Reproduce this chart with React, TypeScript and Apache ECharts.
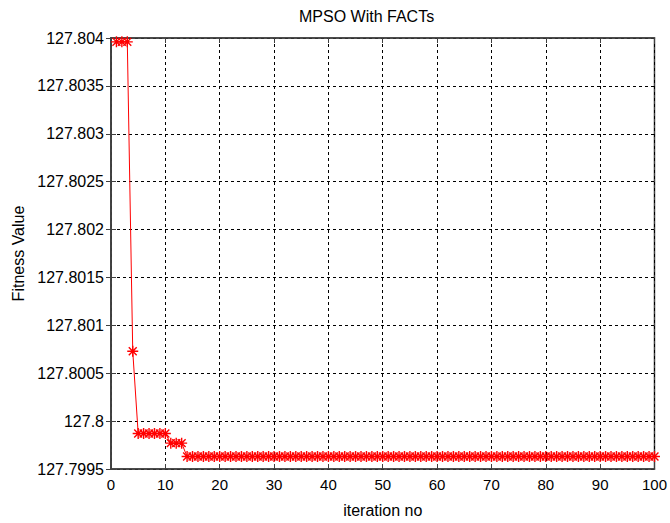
import React, { useEffect, useRef } from "react";
import * as echarts from "echarts";

const titleText = "MPSO With FACTs";
const xName = "iteration no";
const yName = "Fitness Value";

const xTicks = [0, 10, 20, 30, 40, 50, 60, 70, 80, 90, 100];
const yMin = 127.7995;
const yMax = 127.804;
const yStep = 0.0005;

// fitness value per iteration (iteration 1..100)
const fitness = [
  127.80396, 127.80396, 127.80396, 127.80073, 127.79987, 127.79987, 127.79987, 127.79987, 127.79987, 127.79987,
  127.79977, 127.79977, 127.79977, 127.79963, 127.79963, 127.79963, 127.79963, 127.79963, 127.79963, 127.79963,
  127.79963, 127.79963, 127.79963, 127.79963, 127.79963, 127.79963, 127.79963, 127.79963, 127.79963, 127.79963,
  127.79963, 127.79963, 127.79963, 127.79963, 127.79963, 127.79963, 127.79963, 127.79963, 127.79963, 127.79963,
  127.79963, 127.79963, 127.79963, 127.79963, 127.79963, 127.79963, 127.79963, 127.79963, 127.79963, 127.79963,
  127.79963, 127.79963, 127.79963, 127.79963, 127.79963, 127.79963, 127.79963, 127.79963, 127.79963, 127.79963,
  127.79963, 127.79963, 127.79963, 127.79963, 127.79963, 127.79963, 127.79963, 127.79963, 127.79963, 127.79963,
  127.79963, 127.79963, 127.79963, 127.79963, 127.79963, 127.79963, 127.79963, 127.79963, 127.79963, 127.79963,
  127.79963, 127.79963, 127.79963, 127.79963, 127.79963, 127.79963, 127.79963, 127.79963, 127.79963, 127.79963,
  127.79963, 127.79963, 127.79963, 127.79963, 127.79963, 127.79963, 127.79963, 127.79963, 127.79963, 127.79963,
];

const FONT = "'Liberation Sans', Arial, Helvetica, sans-serif";
const ASTERISK =
  "path://M0,-5L0,5M-5,0L5,0M-3.6,-3.6L3.6,3.6M-3.6,3.6L3.6,-3.6";

export default function App() {
  const ref = useRef<HTMLDivElement>(null);
  useEffect(() => {
    if (!ref.current) return;
    const chart = echarts.init(ref.current, null, { renderer: "svg" });
    const fmtY = (v: number) => String(parseFloat(v.toFixed(4)));
    chart.setOption({
      animation: false,
      backgroundColor: "#ffffff",
      title: {
        text: titleText,
        left: 294,
        top: 3,
        textStyle: { fontFamily: FONT, fontSize: 16, fontWeight: "normal", color: "#000" },
      },
      grid: {
        left: 111,
        right: 14,
        top: 38,
        bottom: 46,
        show: true,
        borderColor: "#404040",
        borderWidth: 1.5,
        backgroundColor: "#fff",
      },
      xAxis: [
        {
          type: "value",
          min: xTicks[0],
          max: xTicks[xTicks.length - 1],
          interval: 10,
          name: xName,
          nameLocation: "middle",
          nameGap: 33,
          nameTextStyle: { fontFamily: FONT, fontSize: 16, color: "#000" },
          axisLine: { show: true, lineStyle: { color: "#404040", width: 1.5 } },
          axisTick: { show: true, inside: true, length: 5, lineStyle: { color: "#404040" } },
          axisLabel: { fontFamily: FONT, fontSize: 15, color: "#000", margin: 8 },
          splitLine: { show: true, lineStyle: { color: "#000", type: [3, 3], width: 1 } },
        },
        {
          type: "value",
          position: "top",
          min: xTicks[0],
          max: xTicks[xTicks.length - 1],
          interval: 10,
          axisLine: { show: true, lineStyle: { color: "#404040", width: 1.5 } },
          axisTick: { show: true, inside: true, length: 5, lineStyle: { color: "#404040" } },
          axisLabel: { show: false },
          splitLine: { show: false },
        },
      ],
      yAxis: [
        {
          type: "value",
          min: yMin,
          max: yMax,
          interval: yStep,
          name: yName,
          nameLocation: "middle",
          nameGap: 84,
          nameTextStyle: { fontFamily: FONT, fontSize: 16, color: "#000" },
          axisLine: { show: true, lineStyle: { color: "#404040", width: 1.5 } },
          axisTick: { show: true, inside: true, length: 5, lineStyle: { color: "#404040" } },
          axisLabel: { fontFamily: FONT, fontSize: 16, color: "#000", margin: 7, formatter: fmtY },
          splitLine: { show: true, lineStyle: { color: "#000", type: [3, 3], width: 1 } },
        },
        {
          type: "value",
          position: "right",
          min: yMin,
          max: yMax,
          interval: yStep,
          axisLine: { show: true, lineStyle: { color: "#404040", width: 1.5 } },
          axisTick: { show: true, inside: true, length: 5, lineStyle: { color: "#404040" } },
          axisLabel: { show: false },
          splitLine: { show: false },
        },
      ],
      series: [
        {
          type: "line",
          data: fitness.map((v, i) => [i + 1, v]),
          lineStyle: { color: "#ff0000", width: 1 },
          itemStyle: { color: "#ff0000", borderColor: "#ff0000", borderWidth: 1.4 },
          symbol: ASTERISK,
          symbolSize: 11,
          showSymbol: true,
          showAllSymbol: true,
          clip: false,
        },
      ],
    });
    return () => chart.dispose();
  }, []);
  return (
    <div
      ref={ref}
      style={{ width: 670, height: 523, position: "absolute", left: 0, top: 0 }}
    />
  );
}
